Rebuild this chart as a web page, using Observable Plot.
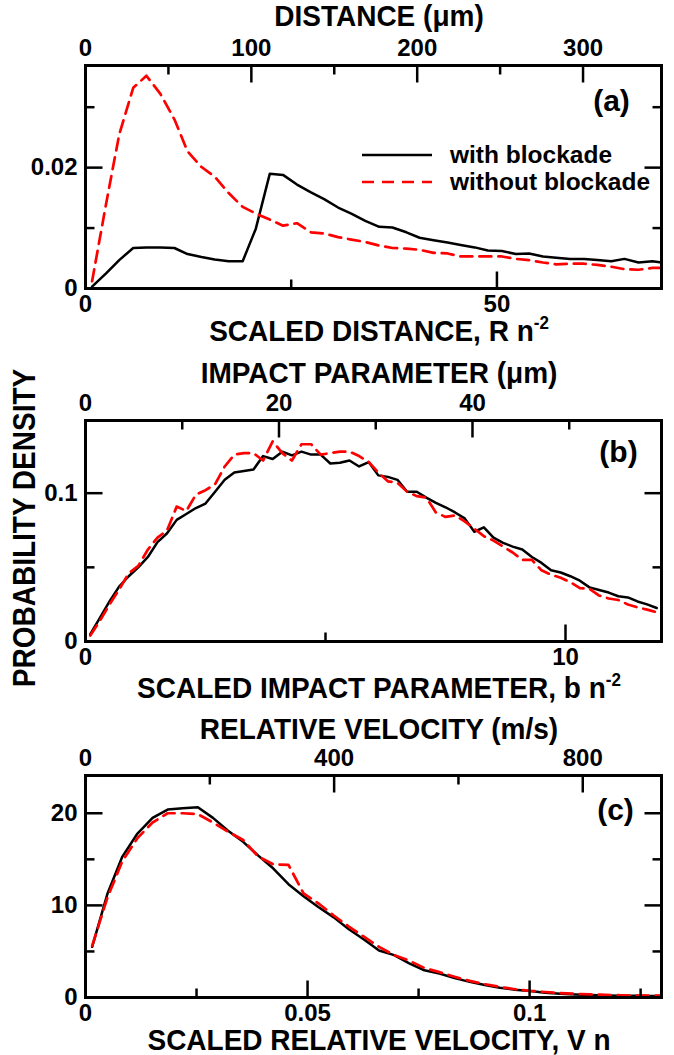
<!DOCTYPE html>
<html>
<head>
<meta charset="utf-8">
<script src="https://cdn.jsdelivr.net/npm/d3@7"></script>
<script src="https://cdn.jsdelivr.net/npm/@observablehq/plot@0.6"></script>
<style>
  body { margin: 0; background: #fff; }
  #root { position: relative; width: 674px; height: 1055px;
          font-family: "Liberation Sans", Arial, Helvetica, sans-serif; font-weight: bold; color: #000; }
  .title { position: absolute; left: 379px; transform: translateX(-50%) scale(1, 1.05); font-size: 28px; line-height: 28px; white-space: nowrap; }
  .sup { font-size: 17px; position: relative; top: -12px; }
  .ytitle { position: absolute; left: 25px; top: 528px; transform: translate(-50%, -50%) rotate(-90deg) scale(1, 1.1);
            font-size: 28px; line-height: 28px; white-space: nowrap; }
  .leg { position: absolute; left: 362px; height: 26px; display: flex; align-items: center; font-size: 24.5px; white-space: nowrap; }
  .legline { margin-right: 18px; }
</style>
</head>
<body>
<div id="root">
  <div class="title" style="top:3px">DISTANCE (μm)</div>
  <div class="title" style="top:318px">SCALED DISTANCE, R n<span class="sup">-2</span></div>
  <div class="title" style="top:360px">IMPACT PARAMETER (μm)</div>
  <div class="title" style="top:675px">SCALED IMPACT PARAMETER, b n<span class="sup">-2</span></div>
  <div class="title" style="top:716px">RELATIVE VELOCITY (m/s)</div>
  <div class="title" style="top:1027px">SCALED RELATIVE VELOCITY, V n</div>
  <div class="ytitle">PROBABILITY DENSITY</div>
</div>
<script>
// ---------- conversion constants (principal quantum number, atomic units) ----------
const nQ = 306.2;
const bohr = 5.29177e-11;      // m
const atomicVel = 2.18769e6;   // m/s
const umPerUnit = nQ * nQ * bohr * 1e6;   // μm per scaled-distance unit
const mpsPerUnit = atomicVel / nQ;        // m/s per scaled-velocity unit

const seriesNames = ["with blockade", "without blockade"];

// ---------- panel (a): scaled distance ----------
const distX = [0.8, 2.5, 4.1, 5.8, 7.4, 9.1, 10.8, 12.4, 14.1, 15.7, 17.4, 19.1, 20.7, 22.4, 24.0, 25.7,
  27.4, 29.0, 30.7, 32.3, 34.0, 35.7, 37.3, 39.0, 40.6, 42.3, 44.0, 45.6, 47.3, 48.9, 50.6, 52.3,
  53.9, 55.6, 57.2, 58.9, 60.6, 62.2, 63.9, 65.5, 67.2, 68.9, 70.0];
const distWith = [0.0003, 0.0025, 0.0047, 0.0067, 0.0068, 0.0068, 0.0067, 0.0057, 0.0052, 0.0048, 0.0045, 0.0045,
  0.0099, 0.0190, 0.0188, 0.0172, 0.0159, 0.0148, 0.0134, 0.0124, 0.0112, 0.0102, 0.0101, 0.0093, 0.0084, 0.0080,
  0.0076, 0.0072, 0.0068, 0.0063, 0.0062, 0.0057, 0.0058, 0.0053, 0.0051, 0.0049, 0.0049, 0.0047, 0.0045, 0.0049,
  0.0043, 0.0045, 0.0043];
const distWithout = [0.0012, 0.0140, 0.0255, 0.0332, 0.0352, 0.0322, 0.0280, 0.0227, 0.0201, 0.0185, 0.0158, 0.0135,
  0.0124, 0.0114, 0.0104, 0.0108, 0.0093, 0.0091, 0.0085, 0.0081, 0.0077, 0.0071, 0.0067, 0.0066, 0.0064, 0.0059,
  0.0058, 0.0053, 0.0053, 0.0053, 0.0053, 0.0049, 0.0047, 0.0043, 0.0040, 0.0041, 0.0041, 0.0039, 0.0036, 0.0032,
  0.0031, 0.0034, 0.0034];

// ---------- panel (b): scaled impact parameter ----------
const impX = [0.1, 0.3, 0.5, 0.7, 0.9, 1.1, 1.3, 1.5, 1.7, 1.9, 2.1, 2.3, 2.5, 2.7, 2.9, 3.1, 3.3, 3.5, 3.7, 3.9,
  4.1, 4.3, 4.5, 4.7, 4.9, 5.1, 5.3, 5.5, 5.7, 5.9, 6.1, 6.3, 6.5, 6.7, 6.9, 7.1, 7.3, 7.5, 7.7, 7.9,
  8.1, 8.3, 8.5, 8.7, 8.9, 9.1, 9.3, 9.5, 9.7, 9.9, 10.1, 10.3, 10.5, 10.7, 10.9, 11.1, 11.3, 11.5, 11.7, 11.9];
const impWith = [0.005, 0.016, 0.027, 0.037, 0.044, 0.050, 0.057, 0.067, 0.073, 0.082, 0.086, 0.090, 0.093, 0.101,
  0.109, 0.114, 0.115, 0.116, 0.125, 0.123, 0.128, 0.1255, 0.128, 0.126, 0.126, 0.120, 0.1205, 0.122, 0.118, 0.121,
  0.112, 0.111, 0.109, 0.101, 0.101, 0.097, 0.0935, 0.0905, 0.087, 0.083, 0.074, 0.077, 0.070, 0.0665, 0.064,
  0.062, 0.057, 0.053, 0.048, 0.0465, 0.044, 0.041, 0.0365, 0.0347, 0.033, 0.0305, 0.0297, 0.027, 0.025, 0.0226];
const impWithout = [0.004, 0.014, 0.025, 0.035, 0.046, 0.051, 0.062, 0.070, 0.075, 0.091, 0.088, 0.099, 0.102, 0.106,
  0.118, 0.126, 0.127, 0.127, 0.122, 0.135, 0.127, 0.122, 0.133, 0.133, 0.126, 0.127, 0.128, 0.128, 0.125, 0.121,
  0.114, 0.108, 0.107, 0.101, 0.098, 0.097, 0.087, 0.084, 0.085, 0.081, 0.076, 0.071, 0.068, 0.064, 0.060,
  0.055, 0.055, 0.048, 0.045, 0.043, 0.040, 0.036, 0.0355, 0.031, 0.029, 0.028, 0.025, 0.023, 0.0215, 0.0197];

// ---------- panel (c): scaled relative velocity ----------
const velX = [0.0015, 0.0049, 0.0083, 0.0117, 0.0151, 0.0185, 0.0219, 0.0253, 0.0287, 0.0321, 0.0355, 0.0389,
  0.0423, 0.0457, 0.0491, 0.0525, 0.0559, 0.0593, 0.0627, 0.0661, 0.0695, 0.0729, 0.0763, 0.0797, 0.0831,
  0.0865, 0.0899, 0.0933, 0.0967, 0.1001, 0.1035, 0.1069, 0.1103, 0.1137, 0.1171, 0.1205, 0.1239, 0.1273, 0.1297];
const velWith = [5.5, 11.2, 15.3, 17.8, 19.5, 20.4, 20.55, 20.65, 19.5, 18.1, 16.9, 15.4, 14.0, 12.3, 11.0, 9.8,
  8.7, 7.4, 6.3, 5.1, 4.6, 3.7, 2.95, 2.6, 2.1, 1.7, 1.35, 1.05, 0.85, 0.7, 0.52, 0.42, 0.33, 0.27, 0.22, 0.2,
  0.19, 0.17, 0.15];
const velWithout = [5.6, 10.8, 14.8, 17.3, 19.0, 20.0, 20.0, 19.9, 19.0, 18.0, 17.1, 15.3, 14.45, 14.4, 11.3, 10.2,
  8.9, 7.7, 6.6, 5.5, 4.6, 4.0, 3.2, 2.75, 2.25, 1.8, 1.45, 1.15, 0.9, 0.72, 0.6, 0.47, 0.4, 0.33, 0.29, 0.24,
  0.2, 0.2, 0.2];

// ---------- tick values ----------
const aBottomMajor = [0, 50], aBottomMinor = [25];
const aTopMajorUm = [0, 100, 200, 300], aTopMinorUm = [50, 150, 250];
const aLeftMajor = [0, 0.02], aLeftMinor = [0.01, 0.03];

const bBottomMajor = [0, 10], bBottomMinor = [5];
const bTopMajorUm = [0, 20, 40], bTopMinorUm = [10, 30, 50];
const bLeftMajor = [0, 0.1], bLeftMinor = [0.05];

const cBottomMajor = [0, 0.05, 0.1], cBottomMinor = [0.025, 0.075, 0.125];
const cTopMajorMps = [0, 400, 800], cTopMinorMps = [200, 600];
const cLeftMajor = [0, 10, 20], cLeftMinor = [5, 15];

const FONT = '"Liberation Sans", Arial, Helvetica, sans-serif';
const fmt = d => (d === 0 ? "0" : String(+d.toPrecision(6)));
const MAJ = 17, MIN = 9, TW = 2.5;

function table(xs, ys, name) { return xs.map((x, i) => ({x, y: ys[i], series: name})); }

function makePanel(cfg) {
  const topPos = cfg.topMajor.map(v => v / cfg.topFactor);
  const svg = Plot.plot({
    width: 674, height: cfg.height,
    marginLeft: 85, marginRight: 13, marginTop: cfg.mt, marginBottom: cfg.mb,
    x: {domain: cfg.xDomain}, y: {domain: cfg.yDomain},
    style: {fontFamily: FONT, fontWeight: "bold", fontSize: "24px", color: "#000", background: "transparent", overflow: "visible"},
    marks: [
      Plot.axisX({ticks: cfg.bottomMajor, anchor: "bottom", tickSize: 0, tickPadding: 6, tickFormat: fmt, label: null}),
      Plot.axisX({ticks: topPos, anchor: "top", tickSize: 0, tickPadding: 10,
                  tickFormat: d => String(Math.round(d * cfg.topFactor)), label: null}),
      Plot.axisY({ticks: cfg.leftMajor, anchor: "left", tickSize: 0, tickPadding: 8, tickFormat: fmt, label: null}),
      Plot.line(cfg.dataWith, {x: "x", y: "y", stroke: "#000", strokeWidth: 2.5}),
      Plot.line(cfg.dataWithout, {x: "x", y: "y", stroke: "#ff0000", strokeWidth: 2.7, strokeDasharray: "12,7"}),
      Plot.frame({stroke: "#000", strokeWidth: 3}),
      Plot.text([cfg.tag], {text: d => d, frameAnchor: "top-right", dx: cfg.tagDx, dy: cfg.tagDy,
                            textAnchor: "middle", lineAnchor: "middle", fontSize: 30, fontWeight: "bold"})
    ]
  });
  // inward ticks on all four sides, positioned with the plot's own scales
  const sx = svg.scale("x"), sy = svg.scale("y");
  const [left, right] = sx.range;
  const [bottom, top] = sy.range;
  const g = d3.select(svg).append("g").attr("stroke", "#000").attr("stroke-width", TW).attr("fill", "none");
  const vtick = (vals, len, factor = 1) => vals.forEach(v => {
    const x = sx.apply(v / factor) + 0.5;
    g.append("line").attr("x1", x).attr("x2", x).attr("y1", bottom + 0.5).attr("y2", bottom + 0.5 - len);
  });
  const vtickTop = (vals, len, factor) => vals.forEach(v => {
    const x = sx.apply(v / factor) + 0.5;
    g.append("line").attr("x1", x).attr("x2", x).attr("y1", top + 0.5).attr("y2", top + 0.5 + len);
  });
  const htick = (vals, len) => vals.forEach(v => {
    const y = sy.apply(v) + 0.5;
    g.append("line").attr("x1", left + 0.5).attr("x2", left + 0.5 + len).attr("y1", y).attr("y2", y);
    g.append("line").attr("x1", right + 0.5).attr("x2", right + 0.5 - len).attr("y1", y).attr("y2", y);
  });
  vtick(cfg.bottomMajor, MAJ); vtick(cfg.bottomMinor, MIN);
  vtickTop(cfg.topMajor, MAJ, cfg.topFactor); vtickTop(cfg.topMinor, MIN, cfg.topFactor);
  htick(cfg.leftMajor, MAJ); htick(cfg.leftMinor, MIN);
  return svg;
}

const root = document.getElementById("root");
function place(svg, top) {
  svg.style.position = "absolute";
  svg.style.left = "0px";
  svg.style.top = top + "px";
  root.appendChild(svg);
}

place(makePanel({
  height: 350, mt: 65, mb: 62, xDomain: [0, 70], yDomain: [0, 0.0369],
  dataWith: table(distX, distWith, seriesNames[0]), dataWithout: table(distX, distWithout, seriesNames[1]),
  bottomMajor: aBottomMajor, bottomMinor: aBottomMinor,
  topMajor: aTopMajorUm, topMinor: aTopMinorUm, topFactor: umPerUnit,
  leftMajor: aLeftMajor, leftMinor: aLeftMinor, tag: "(a)", tagDx: -50, tagDy: 36
}), 0);

place(makePanel({
  height: 350, mt: 70, mb: 59, xDomain: [0, 12], yDomain: [0, 0.149],
  dataWith: table(impX, impWith, seriesNames[0]), dataWithout: table(impX, impWithout, seriesNames[1]),
  bottomMajor: bBottomMajor, bottomMinor: bBottomMinor,
  topMajor: bTopMajorUm, topMinor: bTopMinorUm, topFactor: umPerUnit,
  leftMajor: bLeftMajor, leftMinor: bLeftMinor, tag: "(b)", tagDx: -43, tagDy: 32
}), 350);

place(makePanel({
  height: 350, mt: 70, mb: 58, xDomain: [0, 0.1297], yDomain: [0, 24.1],
  dataWith: table(velX, velWith, seriesNames[0]), dataWithout: table(velX, velWithout, seriesNames[1]),
  bottomMajor: cBottomMajor, bottomMinor: cBottomMinor,
  topMajor: cTopMajorMps, topMinor: cTopMinorMps, topFactor: mpsPerUnit,
  leftMajor: cLeftMajor, leftMinor: cLeftMinor, tag: "(c)", tagDx: -46, tagDy: 35
}), 705);

// legend (panel a)
function legendRow(top, label, dashed) {
  const row = document.createElement("div");
  row.className = "leg";
  row.style.top = top + "px";
  row.innerHTML = `<svg class="legline" width="70" height="6"><line x1="0" x2="70" y1="3" y2="3" stroke="${dashed ? "#ff0000" : "#000"}"
    stroke-width="${dashed ? 2.7 : 2.5}" ${dashed ? 'stroke-dasharray="12,8"' : ""}/></svg><span>${label}</span>`;
  root.appendChild(row);
}
legendRow(142, seriesNames[0], false);
legendRow(169, seriesNames[1], true);
</script>
</body>
</html>
